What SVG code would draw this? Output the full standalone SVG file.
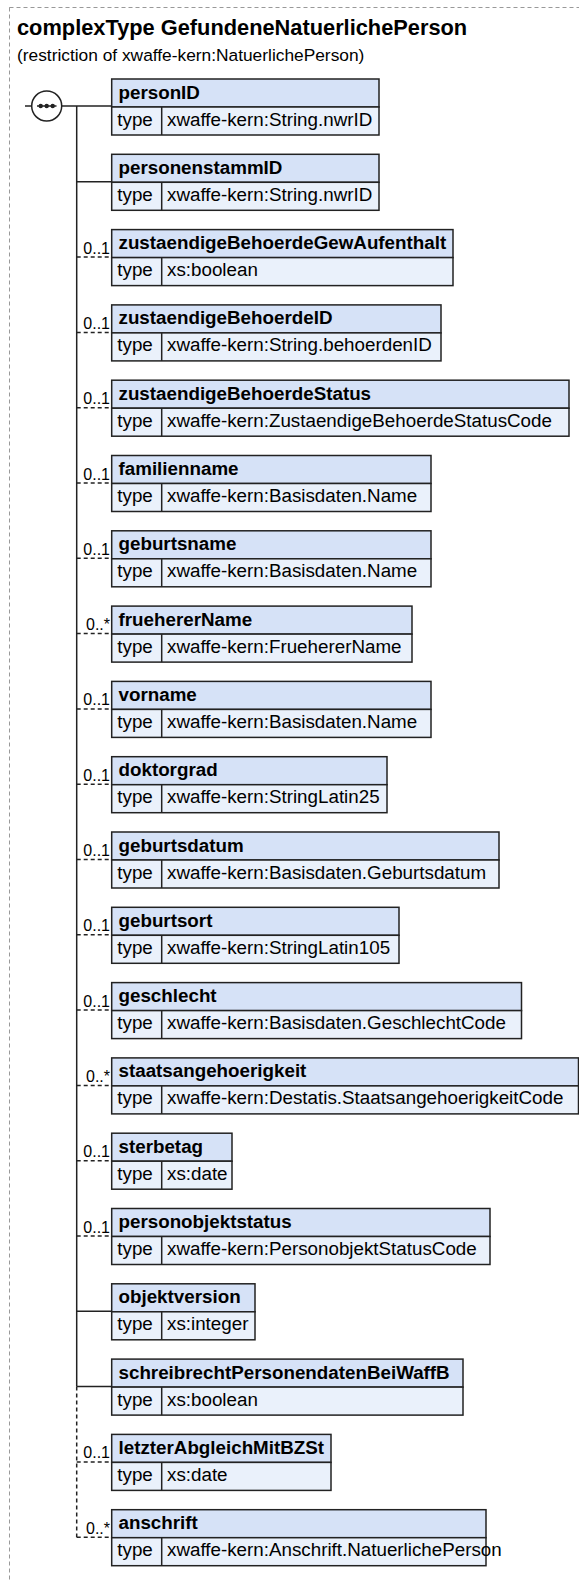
<svg xmlns="http://www.w3.org/2000/svg" width="579" height="1581" viewBox="0 0 579 1581">
<style>
.hdr{fill:#D6E2F7;stroke:#222;stroke-width:1.5}
.typ{fill:#EAF1FB;stroke:#222;stroke-width:1.5}
.sep{stroke:#222;stroke-width:1.5}
.hn{font-family:"Liberation Sans",Arial,sans-serif;font-size:18.8px;font-weight:bold;fill:#000}
.tv{font-family:"Liberation Sans",Arial,sans-serif;font-size:18.8px;fill:#000}
.card{font-family:"Liberation Sans",Arial,sans-serif;font-size:16px;fill:#000;text-anchor:end}
.solid{stroke:#222;stroke-width:1.5;fill:none}
.dash{stroke:#222;stroke-width:1.5;fill:none;stroke-dasharray:4 3}
</style>
<rect x="9.5" y="7.5" width="600" height="1600" fill="none" stroke="#999" stroke-width="1" stroke-dasharray="4 3"/>
<text x="17" y="35" font-family="Liberation Sans, Arial, sans-serif" font-size="21.8" font-weight="bold">complexType GefundeneNatuerlichePerson</text>
<text x="17" y="61" font-family="Liberation Sans, Arial, sans-serif" font-size="17.33">(restriction of xwaffe-kern:NatuerlichePerson)</text>
<g id="sequence">
<circle cx="46.7" cy="106" r="15" fill="#fff" stroke="#222" stroke-width="1.5"/>
<line x1="37" y1="106" x2="56.5" y2="106" stroke="#222" stroke-width="1.5"/>
<circle cx="40.7" cy="106" r="2.2" fill="#222"/>
<circle cx="46.7" cy="106" r="2.2" fill="#222"/>
<circle cx="52.7" cy="106" r="2.2" fill="#222"/>
</g>
<g id="connectors">
<line class="solid" x1="25" y1="106" x2="31.7" y2="106"/>
<line class="solid" x1="61.7" y1="106" x2="111.7" y2="106"/>
<line class="solid" x1="76.7" y1="106" x2="76.7" y2="1386.6"/>
<line class="dash" x1="76.7" y1="1386.6" x2="76.7" y2="1537.2"/>
<line class="solid" x1="76.7" y1="181.8" x2="111.7" y2="181.8"/>
<line class="dash" x1="76.7" y1="257.1" x2="111.7" y2="257.1"/>
<line class="dash" x1="76.7" y1="332.4" x2="111.7" y2="332.4"/>
<line class="dash" x1="76.7" y1="407.7" x2="111.7" y2="407.7"/>
<line class="dash" x1="76.7" y1="483" x2="111.7" y2="483"/>
<line class="dash" x1="76.7" y1="558.3" x2="111.7" y2="558.3"/>
<line class="dash" x1="76.7" y1="633.6" x2="111.7" y2="633.6"/>
<line class="dash" x1="76.7" y1="708.9" x2="111.7" y2="708.9"/>
<line class="dash" x1="76.7" y1="784.2" x2="111.7" y2="784.2"/>
<line class="dash" x1="76.7" y1="859.5" x2="111.7" y2="859.5"/>
<line class="dash" x1="76.7" y1="934.8" x2="111.7" y2="934.8"/>
<line class="dash" x1="76.7" y1="1010.1" x2="111.7" y2="1010.1"/>
<line class="dash" x1="76.7" y1="1085.4" x2="111.7" y2="1085.4"/>
<line class="dash" x1="76.7" y1="1160.7" x2="111.7" y2="1160.7"/>
<line class="dash" x1="76.7" y1="1236" x2="111.7" y2="1236"/>
<line class="solid" x1="76.7" y1="1311.3" x2="111.7" y2="1311.3"/>
<line class="solid" x1="76.7" y1="1386.6" x2="111.7" y2="1386.6"/>
<line class="dash" x1="76.7" y1="1461.9" x2="111.7" y2="1461.9"/>
<line class="dash" x1="76.7" y1="1537.2" x2="111.7" y2="1537.2"/>
<text class="card" x="110" y="253.6">0..1</text>
<text class="card" x="110" y="328.9">0..1</text>
<text class="card" x="110" y="404.2">0..1</text>
<text class="card" x="110" y="479.5">0..1</text>
<text class="card" x="110" y="554.8">0..1</text>
<text class="card" x="110" y="630.1">0..*</text>
<text class="card" x="110" y="705.4">0..1</text>
<text class="card" x="110" y="780.7">0..1</text>
<text class="card" x="110" y="856">0..1</text>
<text class="card" x="110" y="931.3">0..1</text>
<text class="card" x="110" y="1006.6">0..1</text>
<text class="card" x="110" y="1081.9">0..*</text>
<text class="card" x="110" y="1157.2">0..1</text>
<text class="card" x="110" y="1232.5">0..1</text>
<text class="card" x="110" y="1458.4">0..1</text>
<text class="card" x="110" y="1533.7">0..*</text>
</g>
<g id="personID" transform="translate(0,79)">
<rect class="hdr" x="111.7" y="0" width="267.3" height="28"/><rect class="typ" x="111.7" y="28" width="267.3" height="28"/><line class="sep" x1="161.7" y1="28" x2="161.7" y2="56"/>
<text class="hn" x="118.5" y="19.5">personID</text><text class="tv" x="117.3" y="46.5">type</text><text class="tv" x="167" y="46.5">xwaffe-kern:String.nwrID</text>
</g>
<g id="personenstammID" transform="translate(0,154.3)">
<rect class="hdr" x="111.7" y="0" width="267.3" height="28"/><rect class="typ" x="111.7" y="28" width="267.3" height="28"/><line class="sep" x1="161.7" y1="28" x2="161.7" y2="56"/>
<text class="hn" x="118.5" y="19.5">personenstammID</text><text class="tv" x="117.3" y="46.5">type</text><text class="tv" x="167" y="46.5">xwaffe-kern:String.nwrID</text>
</g>
<g id="zustaendigeBehoerdeGewAufenthalt" transform="translate(0,229.6)">
<rect class="hdr" x="111.7" y="0" width="341.3" height="28"/><rect class="typ" x="111.7" y="28" width="341.3" height="28"/><line class="sep" x1="161.7" y1="28" x2="161.7" y2="56"/>
<text class="hn" x="118.5" y="19.5">zustaendigeBehoerdeGewAufenthalt</text><text class="tv" x="117.3" y="46.5">type</text><text class="tv" x="167" y="46.5">xs:boolean</text>
</g>
<g id="zustaendigeBehoerdeID" transform="translate(0,304.9)">
<rect class="hdr" x="111.7" y="0" width="329.3" height="28"/><rect class="typ" x="111.7" y="28" width="329.3" height="28"/><line class="sep" x1="161.7" y1="28" x2="161.7" y2="56"/>
<text class="hn" x="118.5" y="19.5">zustaendigeBehoerdeID</text><text class="tv" x="117.3" y="46.5">type</text><text class="tv" x="167" y="46.5">xwaffe-kern:String.behoerdenID</text>
</g>
<g id="zustaendigeBehoerdeStatus" transform="translate(0,380.2)">
<rect class="hdr" x="111.7" y="0" width="457.3" height="28"/><rect class="typ" x="111.7" y="28" width="457.3" height="28"/><line class="sep" x1="161.7" y1="28" x2="161.7" y2="56"/>
<text class="hn" x="118.5" y="19.5">zustaendigeBehoerdeStatus</text><text class="tv" x="117.3" y="46.5">type</text><text class="tv" x="167" y="46.5">xwaffe-kern:ZustaendigeBehoerdeStatusCode</text>
</g>
<g id="familienname" transform="translate(0,455.5)">
<rect class="hdr" x="111.7" y="0" width="319.3" height="28"/><rect class="typ" x="111.7" y="28" width="319.3" height="28"/><line class="sep" x1="161.7" y1="28" x2="161.7" y2="56"/>
<text class="hn" x="118.5" y="19.5">familienname</text><text class="tv" x="117.3" y="46.5">type</text><text class="tv" x="167" y="46.5">xwaffe-kern:Basisdaten.Name</text>
</g>
<g id="geburtsname" transform="translate(0,530.8)">
<rect class="hdr" x="111.7" y="0" width="319.3" height="28"/><rect class="typ" x="111.7" y="28" width="319.3" height="28"/><line class="sep" x1="161.7" y1="28" x2="161.7" y2="56"/>
<text class="hn" x="118.5" y="19.5">geburtsname</text><text class="tv" x="117.3" y="46.5">type</text><text class="tv" x="167" y="46.5">xwaffe-kern:Basisdaten.Name</text>
</g>
<g id="fruehererName" transform="translate(0,606.1)">
<rect class="hdr" x="111.7" y="0" width="300.3" height="28"/><rect class="typ" x="111.7" y="28" width="300.3" height="28"/><line class="sep" x1="161.7" y1="28" x2="161.7" y2="56"/>
<text class="hn" x="118.5" y="19.5">fruehererName</text><text class="tv" x="117.3" y="46.5">type</text><text class="tv" x="167" y="46.5">xwaffe-kern:FruehererName</text>
</g>
<g id="vorname" transform="translate(0,681.4)">
<rect class="hdr" x="111.7" y="0" width="319.3" height="28"/><rect class="typ" x="111.7" y="28" width="319.3" height="28"/><line class="sep" x1="161.7" y1="28" x2="161.7" y2="56"/>
<text class="hn" x="118.5" y="19.5">vorname</text><text class="tv" x="117.3" y="46.5">type</text><text class="tv" x="167" y="46.5">xwaffe-kern:Basisdaten.Name</text>
</g>
<g id="doktorgrad" transform="translate(0,756.7)">
<rect class="hdr" x="111.7" y="0" width="275.3" height="28"/><rect class="typ" x="111.7" y="28" width="275.3" height="28"/><line class="sep" x1="161.7" y1="28" x2="161.7" y2="56"/>
<text class="hn" x="118.5" y="19.5">doktorgrad</text><text class="tv" x="117.3" y="46.5">type</text><text class="tv" x="167" y="46.5">xwaffe-kern:StringLatin25</text>
</g>
<g id="geburtsdatum" transform="translate(0,832)">
<rect class="hdr" x="111.7" y="0" width="387.3" height="28"/><rect class="typ" x="111.7" y="28" width="387.3" height="28"/><line class="sep" x1="161.7" y1="28" x2="161.7" y2="56"/>
<text class="hn" x="118.5" y="19.5">geburtsdatum</text><text class="tv" x="117.3" y="46.5">type</text><text class="tv" x="167" y="46.5">xwaffe-kern:Basisdaten.Geburtsdatum</text>
</g>
<g id="geburtsort" transform="translate(0,907.3)">
<rect class="hdr" x="111.7" y="0" width="287.3" height="28"/><rect class="typ" x="111.7" y="28" width="287.3" height="28"/><line class="sep" x1="161.7" y1="28" x2="161.7" y2="56"/>
<text class="hn" x="118.5" y="19.5">geburtsort</text><text class="tv" x="117.3" y="46.5">type</text><text class="tv" x="167" y="46.5">xwaffe-kern:StringLatin105</text>
</g>
<g id="geschlecht" transform="translate(0,982.6)">
<rect class="hdr" x="111.7" y="0" width="409.8" height="28"/><rect class="typ" x="111.7" y="28" width="409.8" height="28"/><line class="sep" x1="161.7" y1="28" x2="161.7" y2="56"/>
<text class="hn" x="118.5" y="19.5">geschlecht</text><text class="tv" x="117.3" y="46.5">type</text><text class="tv" x="167" y="46.5">xwaffe-kern:Basisdaten.GeschlechtCode</text>
</g>
<g id="staatsangehoerigkeit" transform="translate(0,1057.9)">
<rect class="hdr" x="111.7" y="0" width="466.8" height="28"/><rect class="typ" x="111.7" y="28" width="466.8" height="28"/><line class="sep" x1="161.7" y1="28" x2="161.7" y2="56"/>
<text class="hn" x="118.5" y="19.5">staatsangehoerigkeit</text><text class="tv" x="117.3" y="46.5">type</text><text class="tv" x="167" y="46.5">xwaffe-kern:Destatis.StaatsangehoerigkeitCode</text>
</g>
<g id="sterbetag" transform="translate(0,1133.2)">
<rect class="hdr" x="111.7" y="0" width="120.3" height="28"/><rect class="typ" x="111.7" y="28" width="120.3" height="28"/><line class="sep" x1="161.7" y1="28" x2="161.7" y2="56"/>
<text class="hn" x="118.5" y="19.5">sterbetag</text><text class="tv" x="117.3" y="46.5">type</text><text class="tv" x="167" y="46.5">xs:date</text>
</g>
<g id="personobjektstatus" transform="translate(0,1208.5)">
<rect class="hdr" x="111.7" y="0" width="378.3" height="28"/><rect class="typ" x="111.7" y="28" width="378.3" height="28"/><line class="sep" x1="161.7" y1="28" x2="161.7" y2="56"/>
<text class="hn" x="118.5" y="19.5">personobjektstatus</text><text class="tv" x="117.3" y="46.5">type</text><text class="tv" x="167" y="46.5">xwaffe-kern:PersonobjektStatusCode</text>
</g>
<g id="objektversion" transform="translate(0,1283.8)">
<rect class="hdr" x="111.7" y="0" width="143.3" height="28"/><rect class="typ" x="111.7" y="28" width="143.3" height="28"/><line class="sep" x1="161.7" y1="28" x2="161.7" y2="56"/>
<text class="hn" x="118.5" y="19.5">objektversion</text><text class="tv" x="117.3" y="46.5">type</text><text class="tv" x="167" y="46.5">xs:integer</text>
</g>
<g id="schreibrechtPersonendatenBeiWaffB" transform="translate(0,1359.1)">
<rect class="hdr" x="111.7" y="0" width="351.3" height="28"/><rect class="typ" x="111.7" y="28" width="351.3" height="28"/><line class="sep" x1="161.7" y1="28" x2="161.7" y2="56"/>
<text class="hn" x="118.5" y="19.5">schreibrechtPersonendatenBeiWaffB</text><text class="tv" x="117.3" y="46.5">type</text><text class="tv" x="167" y="46.5">xs:boolean</text>
</g>
<g id="letzterAbgleichMitBZSt" transform="translate(0,1434.4)">
<rect class="hdr" x="111.7" y="0" width="219.3" height="28"/><rect class="typ" x="111.7" y="28" width="219.3" height="28"/><line class="sep" x1="161.7" y1="28" x2="161.7" y2="56"/>
<text class="hn" x="118.5" y="19.5">letzterAbgleichMitBZSt</text><text class="tv" x="117.3" y="46.5">type</text><text class="tv" x="167" y="46.5">xs:date</text>
</g>
<g id="anschrift" transform="translate(0,1509.7)">
<rect class="hdr" x="111.7" y="0" width="374.3" height="28"/><rect class="typ" x="111.7" y="28" width="374.3" height="28"/><line class="sep" x1="161.7" y1="28" x2="161.7" y2="56"/>
<text class="hn" x="118.5" y="19.5">anschrift</text><text class="tv" x="117.3" y="46.5">type</text><text class="tv" x="167" y="46.5">xwaffe-kern:Anschrift.NatuerlichePerson</text>
</g>
</svg>
